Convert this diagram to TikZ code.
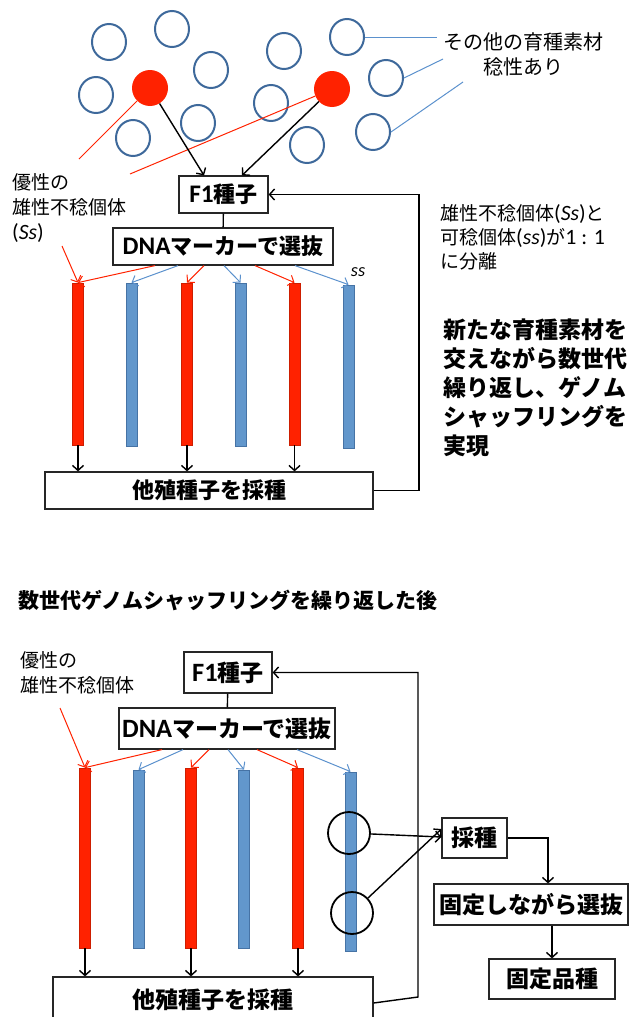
\documentclass[tikz,border=0pt]{standalone}
\usepackage{fontspec}
\setmainfont{Noto Sans CJK JP}
\newfontfamily\lat{Carlito}[Scale=1.15]
\usetikzlibrary{arrows.meta,shapes.geometric}
\definecolor{myred}{RGB}{255,34,0}
\definecolor{redbd}{RGB}{205,30,0}
\definecolor{bluefill}{RGB}{98,151,204}
\definecolor{bluebd}{RGB}{70,115,165}
\definecolor{circbd}{RGB}{62,105,155}
\definecolor{thinblue}{RGB}{91,145,205}
\tikzset{
  bcirc/.style={ellipse,draw=circbd,line width=2pt,minimum width=34pt,minimum height=36pt,inner sep=0pt},
  rcirc/.style={circle,fill=myred,minimum size=36pt,inner sep=0pt},
  boxn/.style={draw=black!85,line width=1.2pt,fill=white,inner sep=0pt,font=\fontsize{22}{22}\selectfont\bfseries},
  boxb/.style={boxn,font=\fontsize{23}{23}\selectfont\bfseries},
  rbar/.style={rectangle,fill=myred,draw=redbd,line width=0.8pt,minimum width=11pt,inner sep=0pt},
  bbar/.style={rectangle,fill=bluefill,draw=bluebd,line width=0.8pt,minimum width=11pt,inner sep=0pt},
  arr/.style={-{Straight Barb[length=5pt,width=11pt]},line width=1.4pt,black},
  rarr/.style={-{Straight Barb[length=5pt,width=11pt]},line width=1pt,myred},
  barr/.style={-{Straight Barb[length=5pt,width=11pt]},line width=1pt,thinblue},
  plain/.style={line width=1.4pt,black},
  ocirc/.style={circle,draw=black,line width=1.8pt,minimum size=42pt,inner sep=0pt},
  lbl/.style={inner sep=0pt,align=left,font=\fontsize{19}{25}\selectfont},
}
\begin{document}
\begin{tikzpicture}[x=1pt,y=-1pt]
\useasboundingbox (0,0) rectangle (629,1017);

% ---------- top section: breeding material ----------
\node[bcirc] (c1) at (109,42) {};
\node[bcirc] (c2) at (172,29) {};
\node[bcirc] (c3) at (211,70) {};
\node[bcirc] (c4) at (96,95) {};
\node[bcirc] (c5) at (133,138) {};
\node[bcirc] (c6) at (198,123) {};
\node[bcirc] (c7) at (284,51) {};
\node[bcirc] (c8) at (271,103) {};
\node[bcirc] (c9) at (307,145) {};
\node[bcirc] (c10) at (347,37) {};
\node[bcirc] (c11) at (386,78) {};
\node[bcirc] (c12) at (373,132) {};
\node[rcirc] (r1) at (150,88) {};
\node[rcirc] (r2) at (332,89) {};

\node[font=\fontsize{20}{25}\selectfont,align=center,inner sep=0pt] (mat) at (523,54.5) {その他の育種素材\\稔性あり};
\coordinate (m1) at (437,37);
\coordinate (m2) at (443,59);
\coordinate (m3) at (463,82);
\draw[thinblue,line width=1pt] (c10.east) -- (m1);
\draw[thinblue,line width=1pt] (c11.east) -- (m2);
\draw[thinblue,line width=1pt] (c12.east) -- (m3);

\node[lbl,anchor=west] (dom) at (12,208) {優性の\\雄性不稔個体\\{\lat(\itshape Ss\upshape)}};
\coordinate (d1) at (79,159);
\coordinate (d2) at (130,174);
\draw[myred,line width=1pt] (r1) -- (d1);
\draw[myred,line width=1pt] (r2) -- (d2);

% boxes
\node[boxn,minimum width=89pt,minimum height=37pt] (f1t) at (223.5,194.5) {{\lat\bfseries F1}種子};
\node[boxn,minimum width=220pt,minimum height=37pt] (dnat) at (223,246.5) {{\lat\bfseries DNA}マーカーで選抜};
\node[boxn,minimum width=328pt,minimum height=37pt] (ot) at (209,490.5) {他殖種子を採種};

\draw[arr] (r1) -- ([xshift=-19.5pt]f1t.north);
\draw[arr] (r2) -- ([xshift=18.5pt]f1t.north);
\draw[plain] (f1t) -- (dnat);

% bars
\node[rbar,minimum height=162pt] (t1) at (78,364) {};
\node[bbar,minimum height=163pt] (t2) at (131.5,364.5) {};
\node[rbar,minimum height=162pt] (t3) at (187,364) {};
\node[bbar,minimum height=163pt] (t4) at (240.5,364.5) {};
\node[rbar,minimum height=162pt] (t5) at (294.5,364) {};
\node[bbar,minimum height=163pt] (t6) at (348.5,366.5) {};

\draw[rarr] ([xshift=-68pt]dnat.south) -- (t1.north);
\draw[barr] ([xshift=-45pt]dnat.south) -- (t2.north);
\draw[rarr] ([xshift=-19pt]dnat.south) -- (t3.north);
\draw[barr] ([xshift=1pt]dnat.south) -- (t4.north);
\draw[rarr] ([xshift=32pt]dnat.south) -- (t5.north);
\draw[barr] ([xshift=72pt]dnat.south) -- (t6.north);
\coordinate (dl) at (62,246);
\draw[rarr] (dl) -- (t1.north);
\node[font=\fontsize{16}{16}\selectfont\lat\itshape,inner sep=0pt] (sst) at (358,272) {ss};

\draw[arr] (t1.south) -- (t1.south |- ot.north);
\draw[arr] (t3.south) -- (t3.south |- ot.north);
\draw[arr] (t5.south) -- (t5.south |- ot.north);
\draw[arr] (ot.east) -- (419,490.5) |- (f1t.east);

\node[lbl,anchor=west,font=\fontsize{19}{24}\selectfont] (seg) at (440,237) {雄性不稔個体{\lat(\itshape Ss\upshape)}と\\可稔個体{\lat(\itshape ss\upshape)}が{\lat 1 : 1}\\に分離};
\node[lbl,anchor=west,font=\fontsize{23}{29}\selectfont\bfseries] (new) at (443,388) {新たな育種素材を\\交えながら数世代\\繰り返し、ゲノム\\シャッフリングを\\実現};

% ---------- bottom section ----------
\node[anchor=west,inner sep=0pt,font=\fontsize{21}{21}\selectfont\bfseries] (title) at (18,600) {数世代ゲノムシャッフリングを繰り返した後};
\node[lbl,anchor=west] (domb) at (20,672.5) {優性の\\雄性不稔個体};

\node[boxb,minimum width=88pt,minimum height=41pt] (f1b) at (228,672.5) {{\lat\bfseries F1}種子};
\node[boxb,minimum width=216pt,minimum height=41pt] (dnab) at (227,728.5) {{\lat\bfseries DNA}マーカーで選抜};
\node[boxb,minimum width=320pt,minimum height=46pt] (ob) at (213,1000) {他殖種子を採種};
\draw[plain] (f1b) -- (dnab);

\node[rbar,minimum height=180pt] (b1) at (85,858) {};
\node[bbar,minimum height=178pt] (b2) at (138.5,859) {};
\node[rbar,minimum height=180pt] (b3) at (191,858) {};
\node[bbar,minimum height=178pt] (b4) at (244,859) {};
\node[rbar,minimum height=180pt] (b5) at (298,858) {};
\node[bbar,minimum height=179pt] (b6) at (350.5,861.5) {};

\draw[rarr] ([xshift=-65pt]dnab.south) -- (b1.north);
\draw[barr] ([xshift=-44pt]dnab.south) -- (b2.north);
\draw[rarr] ([xshift=-18pt]dnab.south) -- (b3.north);
\draw[barr] ([xshift=1pt]dnab.south) -- (b4.north);
\draw[rarr] ([xshift=30pt]dnab.south) -- (b5.north);
\draw[barr] ([xshift=70pt]dnab.south) -- (b6.north);
\coordinate (dlb) at (60,708);
\draw[rarr] (dlb) -- (b1.north);

\draw[arr] (b1.south) -- (b1.south |- ob.north);
\draw[arr] (b3.south) -- (b3.south |- ob.north);
\draw[arr] (b5.south) -- (b5.south |- ob.north);
\draw[arr] ([yshift=-3pt]ob.east) -- (418,997) |- (f1b.east);

\node[ocirc] (o1) at (349,833) {};
\node[ocirc] (o2) at (352,913) {};

\node[boxb,minimum width=65pt,minimum height=40pt] (sai) at (474.5,838) {採種};
\node[boxb,minimum width=194pt,minimum height=41pt] (kts) at (531,904.5) {固定しながら選抜};
\node[boxb,minimum width=126pt,minimum height=40pt] (khs) at (552,979) {固定品種};

\draw[arr] (o1) -- ([yshift=1pt]sai.west);
\draw[arr] (o2) -- ([yshift=9pt]sai.west);
\draw[arr] (sai.east) -| ([xshift=17pt]kts.north);
\draw[arr] (khs.north |- kts.south) -- (khs.north);
\end{tikzpicture}
\end{document}
